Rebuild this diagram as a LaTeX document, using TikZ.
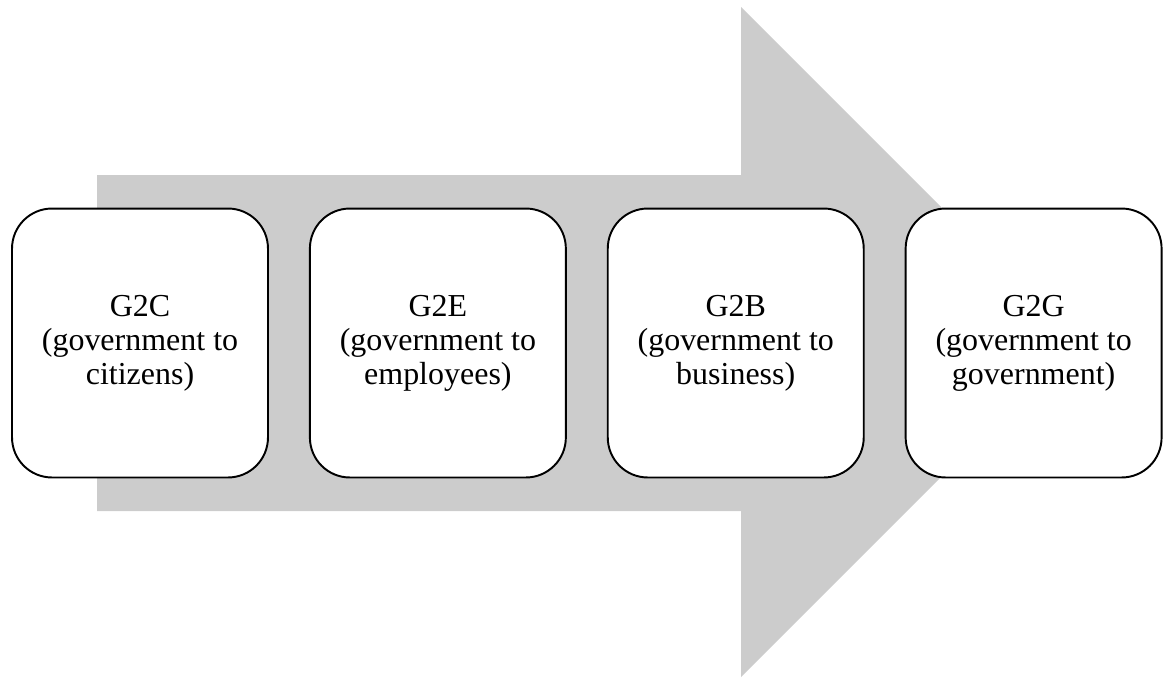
\documentclass[tikz,border=0pt]{standalone}
\usepackage{fontspec}
\setmainfont{Liberation Serif}
\usetikzlibrary{positioning}
\definecolor{shaftgray}{RGB}{204,204,204}

\begin{document}
\begin{tikzpicture}[
  x=0.02cm, y=-0.02cm,
  node distance=0.8cm,
  stage/.style={draw=black, fill=white, line width=1.1pt, rounded corners=0.8cm,
    minimum width=5.12cm, minimum height=5.38cm, align=center,
    font=\fontsize{18.2}{19.3}\selectfont, inner sep=2pt},
  backarrow/.style={fill=shaftgray, draw=none}
]
  \useasboundingbox (0,0) rectangle (1170,677);

  % big grey arrow behind the boxes
  \fill[backarrow] (97,175) -- (741,175) -- (741,7) -- (1076,342)
    -- (741,677) -- (741,511) -- (97,511) -- cycle;

  % the four stages
  \node[stage] (g2c) at (140,343) {G2C\\(government to\\citizens)};
  \node[stage, right=of g2c] (g2e) {G2E\\(government to\\employees)};
  \node[stage, right=of g2e] (g2b) {G2B\\(government to\\business)};
  \node[stage, right=of g2b] (g2g) {G2G\\(government to\\government)};
\end{tikzpicture}
\end{document}
